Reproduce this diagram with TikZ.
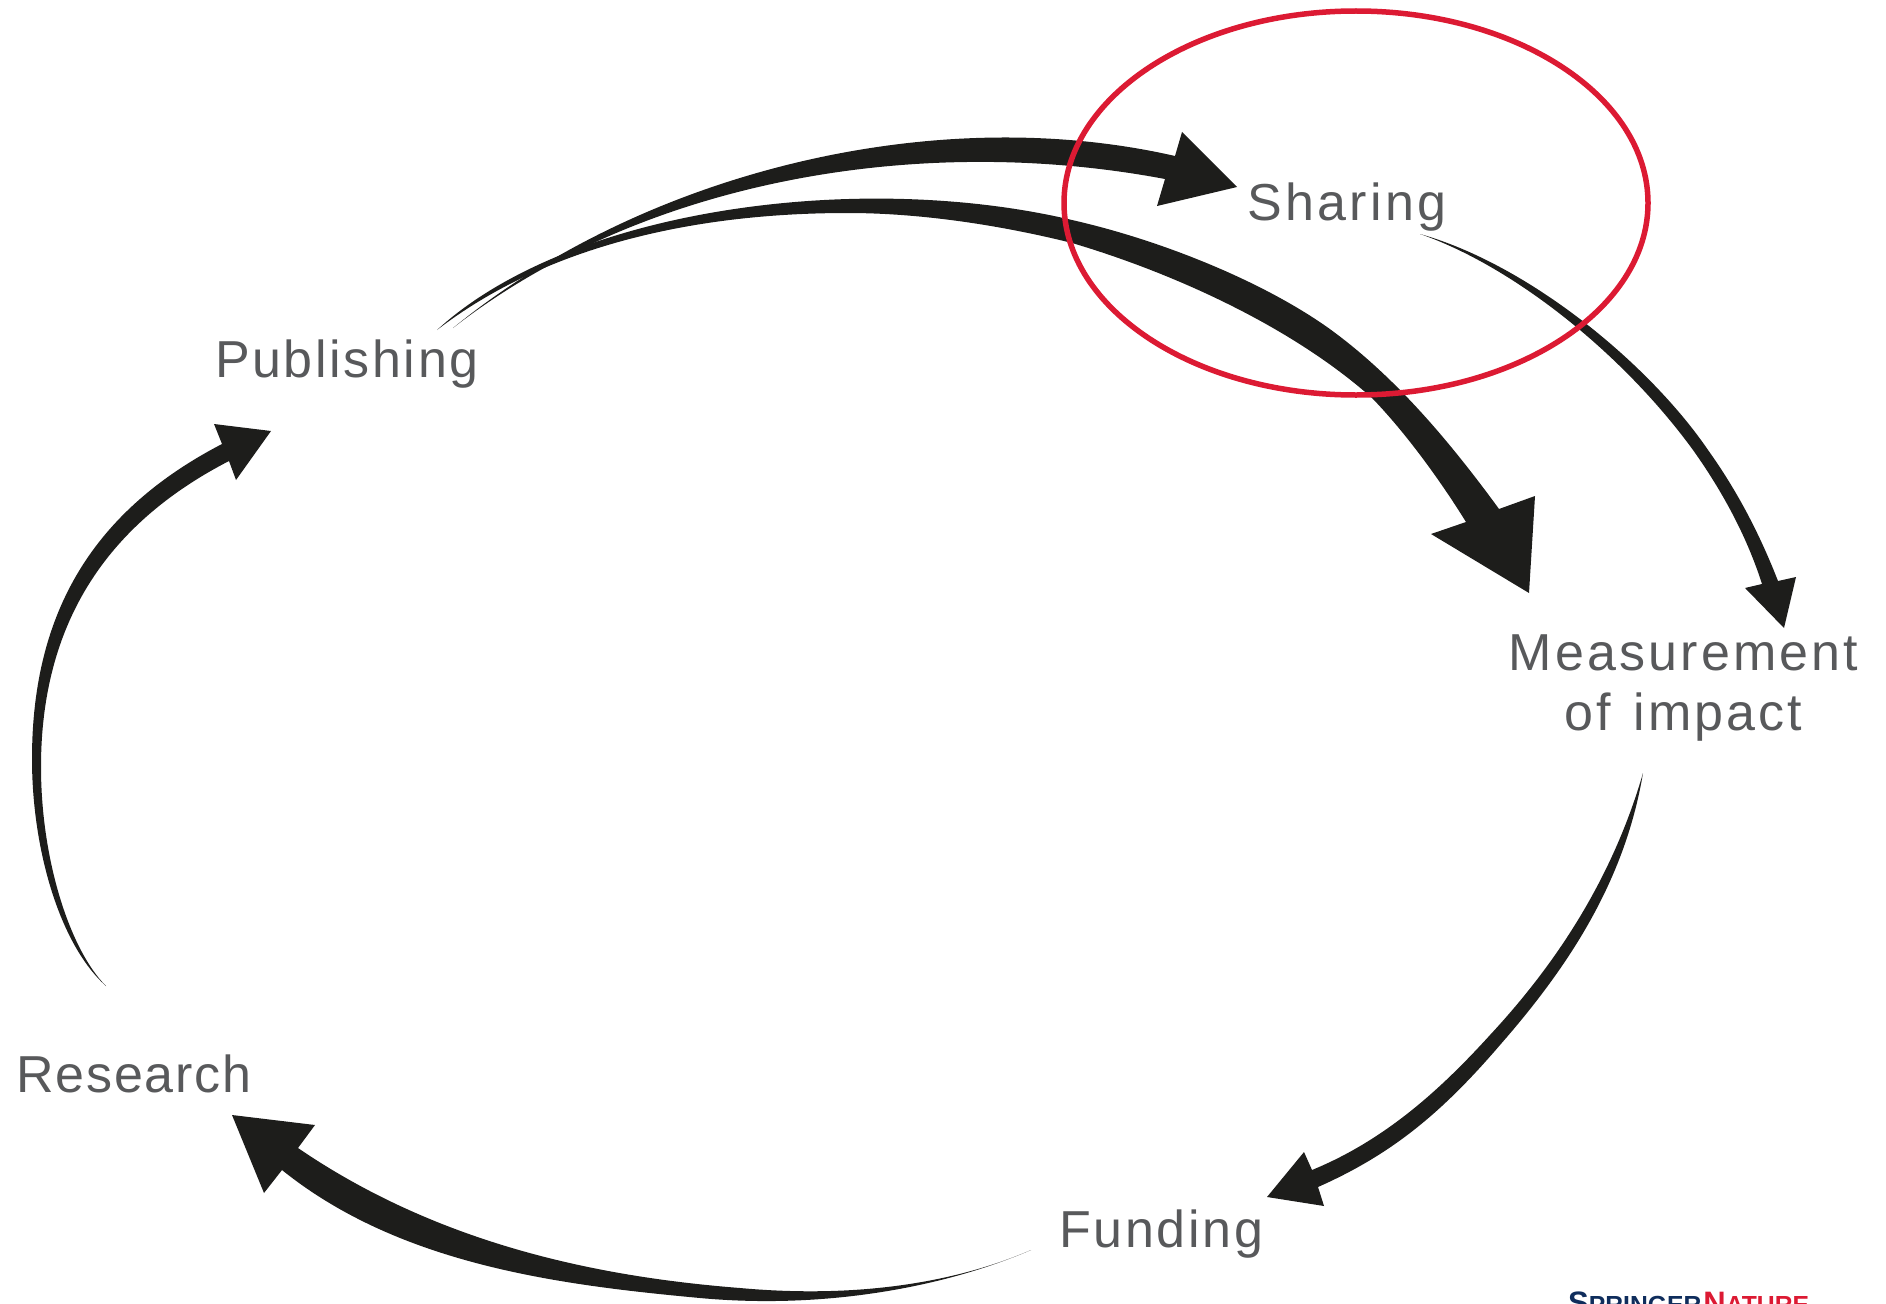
\documentclass[tikz,border=0pt]{standalone}
\usepackage{fontspec}
\usepackage{xcolor}
\setmainfont[LetterSpace=5]{Liberation Sans}
\newfontfamily\logofont{Liberation Sans}
\definecolor{arrowblack}{HTML}{1D1D1B}
\definecolor{labelgrey}{HTML}{58595B}
\definecolor{ringred}{HTML}{DC1A33}
\definecolor{logonavy}{HTML}{0F2D5C}
\begin{document}
\begin{tikzpicture}[x=1pt, y=-1pt,
    stage/.style={text=labelgrey, inner sep=0pt, font=\fontsize{52}{60}\selectfont},
    flowarrow/.style={fill=arrowblack, draw=none},
    ring/.style={draw=ringred, line width=5.5pt}]
    \useasboundingbox (0,0) rectangle (1886,1303);

    % Nodes
    \node[stage, anchor=base west] (publishing) at (215,377) {Publishing};
    \node[stage, anchor=base west] (sharing) at (1247,220) {\addfontfeature{LetterSpace=6.4}Sharing};
    \node[stage, align=center, anchor=north] (impact) at (1683.5,635)
        {\addfontfeature{LetterSpace=6}Measurement\\\addfontfeature{LetterSpace=6}of \hspace{5pt}impact};
    \node[stage, anchor=base west] (funding) at (1059,1247) {\addfontfeature{LetterSpace=5.2}Funding};
    \node[stage, anchor=base west] (research) at (16,1092) {\addfontfeature{LetterSpace=3.5}Research};
    \node[anchor=north west, inner sep=0pt, font=\logofont\bfseries] (logo) at (1568,1292)
        {\fontsize{31}{31}\selectfont\textcolor{logonavy}{S\fontsize{24.7}{31}\selectfont PRINGER}\hspace{2pt}\textcolor{ringred}{\fontsize{31}{31}\selectfont N\fontsize{24.7}{31}\selectfont ATURE}};

    % Free ends of the arrows
    \coordinate (shareTail) at (453,328);
    \coordinate (shareTip) at (1237,187);
    \coordinate (pubTail) at (437,330);
    \coordinate (pubTip) at (1529,593);
    \coordinate (sharedTail) at (1420,234);
    \coordinate (sharedTip) at (1784,628);
    \coordinate (impactTail) at (1643,773);
    \coordinate (impactTip) at (1267,1197);
    \coordinate (fundTail) at (1031,1250);
    \coordinate (fundTip) at (232,1115);
    \coordinate (resTail) at (106,986);
    \coordinate (resTip) at (271,431);

    % Publishing to sharing
    \fill[flowarrow] (shareTail) .. controls (640,175) and (930,100) .. (1175,156)
        -- (1182,132) -- (shareTip) -- (1157,206) -- (1165,179)
        .. controls (915,132) and (640,182) .. (shareTail) -- cycle;

    % Publishing to measurement
    \fill[flowarrow] (pubTail) .. controls (570,208) and (860,170) .. (1072,220)
        .. controls (1160,240) and (1260,280) .. (1327,327)
        .. controls (1390,372) and (1445,435) .. (1499,509)
        -- (1535,496) -- (pubTip) -- (1431,534) -- (1466,522)
        .. controls (1440,480) and (1405,432) .. (1372,398)
        .. controls (1290,325) and (1170,272) .. (1072,243)
        .. controls (1000,225) and (920,213) .. (848,213)
        .. controls (750,213) and (572,226) .. (pubTail) -- cycle;

    % Sharing to measurement
    \fill[flowarrow] (sharedTail) .. controls (1530,265) and (1650,365) .. (1708,450)
        .. controls (1738,492) and (1760,535) .. (1778,581)
        -- (1796,577) -- (sharedTip) -- (1745,588) -- (1762,584)
        .. controls (1748,540) and (1725,495) .. (1693,450)
        .. controls (1620,350) and (1510,265) .. (sharedTail) -- cycle;

    % Measurement to funding
    \fill[flowarrow] (impactTail) .. controls (1625,880) and (1570,965) .. (1500,1045)
        .. controls (1440,1115) and (1390,1155) .. (1318,1187)
        -- (1324,1206) -- (impactTip) -- (1304,1152) -- (1312,1170)
        .. controls (1385,1140) and (1440,1090) .. (1490,1035)
        .. controls (1555,965) and (1612,880) .. (impactTail) -- cycle;

    % Funding to research
    \fill[flowarrow] (fundTail) .. controls (950,1285) and (850,1298) .. (740,1288)
        .. controls (600,1277) and (440,1245) .. (298,1148)
        -- (315,1125) -- (fundTip) -- (264,1193) -- (282,1170)
        .. controls (400,1265) and (560,1285) .. (700,1298)
        .. controls (830,1310) and (950,1285) .. (fundTail) -- cycle;

    % Research to publishing
    \fill[flowarrow] (resTail) .. controls (60,945) and (32,850) .. (32,759)
        .. controls (32,610) and (95,510) .. (222,444)
        -- (214,424) -- (resTip) -- (236,480) -- (229,461)
        .. controls (105,525) and (41,625) .. (41,767)
        .. controls (41,860) and (70,950) .. (resTail) -- cycle;

    % Highlight round sharing
    \draw[ring] (1356,203) ellipse [x radius=292, y radius=192];
\end{tikzpicture}
\end{document}
